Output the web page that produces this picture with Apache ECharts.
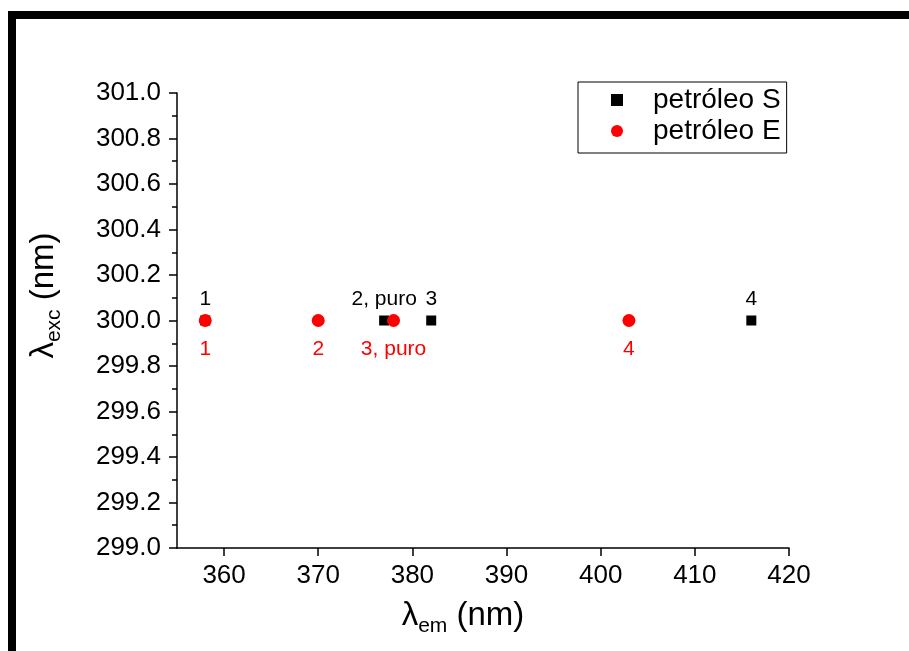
<!DOCTYPE html>
<html>
<head>
<meta charset="utf-8">
<script src="https://cdn.jsdelivr.net/npm/echarts@6/dist/echarts.min.js"></script>
<style>
html,body{margin:0;padding:0;background:#fff;}
#c{width:909px;height:651px;}
</style>
</head>
<body>
<div id="c"></div>
<script>
// Data
const sX = [358, 377, 382, 416];
const sY = [300, 300, 300, 300];
const sLabels = ['1', '2, puro', '3', '4'];
const eX = [358, 370, 378, 403];
const eY = [300, 300, 300, 300];
const eLabels = ['1', '2', '3, puro', '4'];
const seriesNames = ['petróleo S', 'petróleo E'];
const xTicks = [360, 370, 380, 390, 400, 410, 420];

const FONT = '"Liberation Sans", Arial, sans-serif';
const chart = echarts.init(document.getElementById('c'), null, {renderer: 'canvas'});

function pts(xs, ys, labels) {
  return xs.map((x, i) => ({value: [x, ys[i]], lbl: labels[i]}));
}

const titleRich = {
  a: {fontFamily: FONT, fontSize: 33, color: '#000', lineHeight: 42, verticalAlign: 'middle'},
  b: {fontFamily: FONT, fontSize: 21, color: '#000', lineHeight: 21, verticalAlign: 'bottom', padding: [16, 0, 0, 0]}
};

const option = {
  backgroundColor: '#fff',
  animation: false,
  grid: {left: 177, right: 120, top: 93, bottom: 103, containLabel: false},
  graphic: [
    {type: 'rect', shape: {x: 8, y: 11, width: 901, height: 8}, style: {fill: '#000'}, silent: true},
    {type: 'rect', shape: {x: 8, y: 11, width: 8, height: 640}, style: {fill: '#000'}, silent: true}
  ],
  legend: {
    orient: 'vertical',
    left: 578, top: 82,
    backgroundColor: '#fff',
    borderColor: '#000', borderWidth: 1, borderRadius: 0,
    padding: [4, 6, 8, 33],
    itemGap: 3,
    itemWidth: 12, itemHeight: 12,
    itemStyle: {opacity: 1},
    textStyle: {fontFamily: FONT, fontSize: 28, color: '#000', padding: [0, 0, 0, 25]},
    data: [{name: seriesNames[0], icon: 'rect'}, {name: seriesNames[1], icon: 'circle'}]
  },
  xAxis: {
    type: 'value', min: 355, max: 420, interval: 10,
    name: '{a|λ}{b|em}{a| (nm)}',
    nameLocation: 'middle', nameGap: 47,
    nameTextStyle: {rich: titleRich, padding: [0, 40, 0, 0]},
    axisLine: {show: true, onZero: false, lineStyle: {color: '#000', width: 1.5}},
    axisTick: {show: true, inside: false, length: 8, lineStyle: {color: '#000', width: 1.5},
      customValues: xTicks},
    minorTick: {show: true, splitNumber: 2, length: 5, lineStyle: {color: '#000', width: 1.5}},
    axisLabel: {fontFamily: FONT, fontSize: 26, color: '#000', margin: 15, customValues: xTicks},
    splitLine: {show: false}
  },
  yAxis: {
    type: 'value', min: 299.0, max: 301.0, interval: 0.2,
    name: '{a|λ}{b|exc}{a| (nm)}',
    nameLocation: 'middle', nameGap: 112,
    nameTextStyle: {rich: titleRich, padding: [0, 0, 0, 50]},
    axisLine: {show: true, onZero: false, lineStyle: {color: '#000', width: 1.5}},
    axisTick: {show: true, inside: false, length: 8, lineStyle: {color: '#000', width: 1.5}},
    minorTick: {show: true, splitNumber: 2, length: 5, lineStyle: {color: '#000', width: 1.5}},
    axisLabel: {fontFamily: FONT, fontSize: 26, color: '#000', margin: 16,
      formatter: v => v.toFixed(1)},
    splitLine: {show: false}
  },
  series: [
    {
      name: seriesNames[0], type: 'scatter', symbol: 'rect', symbolSize: 10,
      itemStyle: {color: '#000', opacity: 1},
      data: pts(sX, sY, sLabels),
      label: {show: true, position: 'top', distance: 6, fontFamily: FONT, fontSize: 21, color: '#000',
        formatter: p => p.data.lbl},
      emphasis: {disabled: true}
    },
    {
      name: seriesNames[1], type: 'scatter', symbol: 'circle', symbolSize: 13,
      itemStyle: {color: '#ff0000', opacity: 1},
      data: pts(eX, eY, eLabels),
      label: {show: true, position: 'bottom', distance: 12, fontFamily: FONT, fontSize: 21, color: '#ff0000',
        formatter: p => p.data.lbl},
      emphasis: {disabled: true}
    }
  ]
};
chart.setOption(option);
</script>
</body>
</html>
